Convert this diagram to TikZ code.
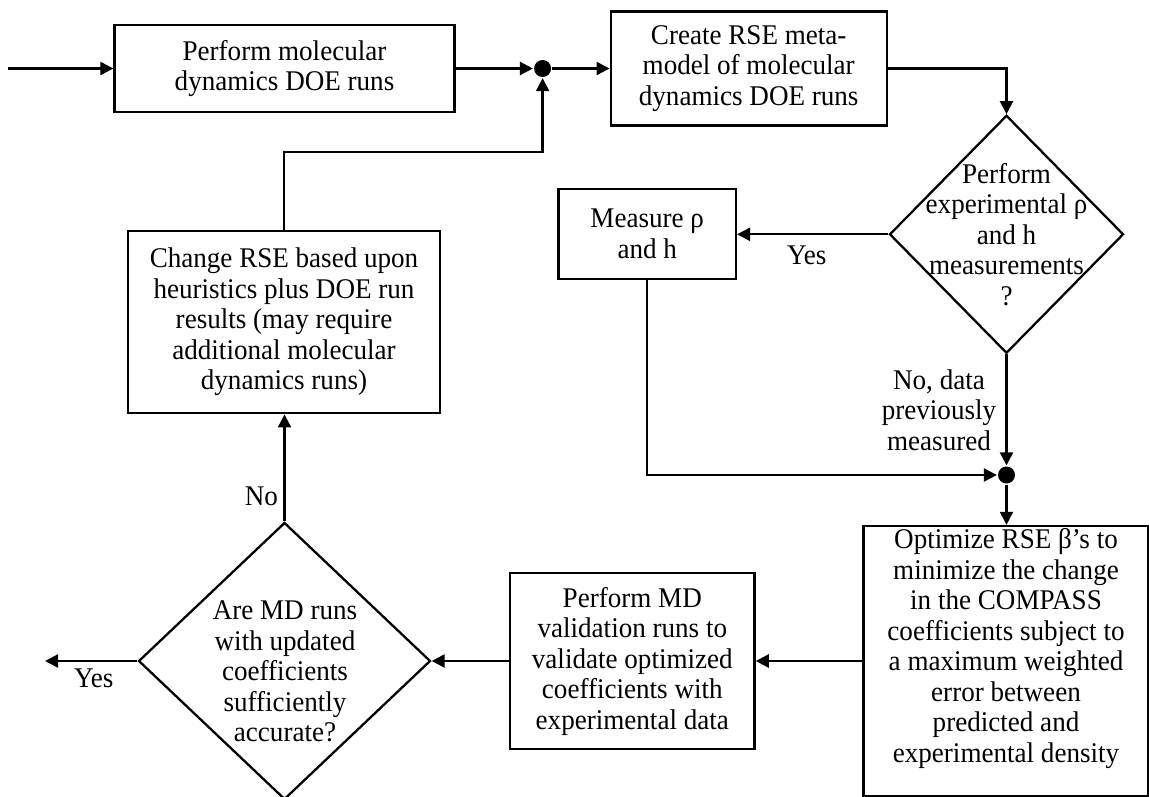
\documentclass[tikz,border=0pt]{standalone}
\usepackage{fontspec}
\setmainfont{Liberation Serif}[FakeStretch=0.95]
\usetikzlibrary{arrows.meta,shapes.geometric,calc}
\begin{document}
\begin{tikzpicture}[x=1pt,y=-1pt, line width=2.3pt, font=\fontsize{28.5}{30.5}\selectfont,
 box/.style={draw, rectangle, inner sep=0pt, align=center},
 dia/.style={draw, diamond, inner sep=0pt},
 arr/.style={-{Triangle[length=13pt,width=13pt]}},
 lbl/.style={align=center, inner sep=0pt},
 dot/.style={circle, fill, inner sep=0pt, minimum size=17pt}]
\useasboundingbox[fill=white] (0,0) rectangle (1149,797);

\node[box, minimum width=340pt, minimum height=86.7pt] (b1) at (284.5,68.5) {Perform molecular\\dynamics DOE runs};
\node[dot] (j1) at (542.6,68.5) {};
\node[box, minimum width=276pt, minimum height=114pt] (b2) at (748.7,68.5) {Create RSE meta-\\model of molecular\\dynamics DOE runs};
\node[dia, minimum width=234pt, minimum height=238pt] (d1) at (1006.5,234.3) {};
\node[lbl] (d1t) at (1006.5,234.5) {Perform\\experimental ρ\\and h\\measurements\\?};
\node[box, minimum width=177.5pt, minimum height=90pt] (m) at (647.2,234) {Measure ρ\\and h};
\node[dot] (j2) at (1006.5,475) {};
\node[box, minimum width=285pt, minimum height=270pt] (opt) at (1006,661) {};
\node[lbl] (optt) at (1006,648.3) {Optimize RSE β’s to\\minimize the change\\in the COMPASS\\coefficients subject to\\a maximum weighted\\error between\\predicted and\\experimental density};
\node[box, minimum width=244.6pt, minimum height=176pt] (md) at (632.3,661) {Perform MD\\validation runs to\\validate optimized\\coefficients with\\experimental data};
\node[dia, minimum width=292pt, minimum height=277pt] (d2) at (284.5,661) {};
\node[lbl] (d2t) at (285,671.6) {Are MD runs\\with updated\\coefficients\\sufficiently\\accurate?};
\node[box, minimum width=312.6pt, minimum height=182.6pt] (ch) at (284,322) {Change RSE based upon\\heuristics plus DOE run\\results (may require\\additional molecular\\dynamics runs)};

\coordinate (in) at (8.4,68.5);
\coordinate (out) at (45,661);

\draw[arr] (in) -- (b1);
\draw[arr] (b1) -- (j1);
\draw[arr] (j1) -- (b2);
\draw[arr] (b2.east) -| (d1.north);
\draw[arr] (d1.west) -- (d1.west -| m.east);
\draw[arr] (m.south) |- (j2.west);
\draw[arr] (d1.south) -- (j2.north);
\draw[arr] (j2.south) -- (j2.south |- opt.north);
\draw[arr] (opt.west) -- (md.east);
\draw[arr] (md.west) -- (d2.east);
\draw[arr] (d2.west) -- (out);
\draw[arr] (d2.north) -- (d2.north |- ch.south);
\draw[arr] (ch.north) -- ++(0,-77.4) -| (j1.south);

\node[lbl] (yes1) at (806.8,255) {Yes};
\node[lbl] (no1) at (939,410) {No, data\\previously\\measured};
\node[lbl] (no2) at (261.4,496.7) {No};
\node[lbl] (yes2) at (93.8,678.3) {Yes};
\end{tikzpicture}
\end{document}
